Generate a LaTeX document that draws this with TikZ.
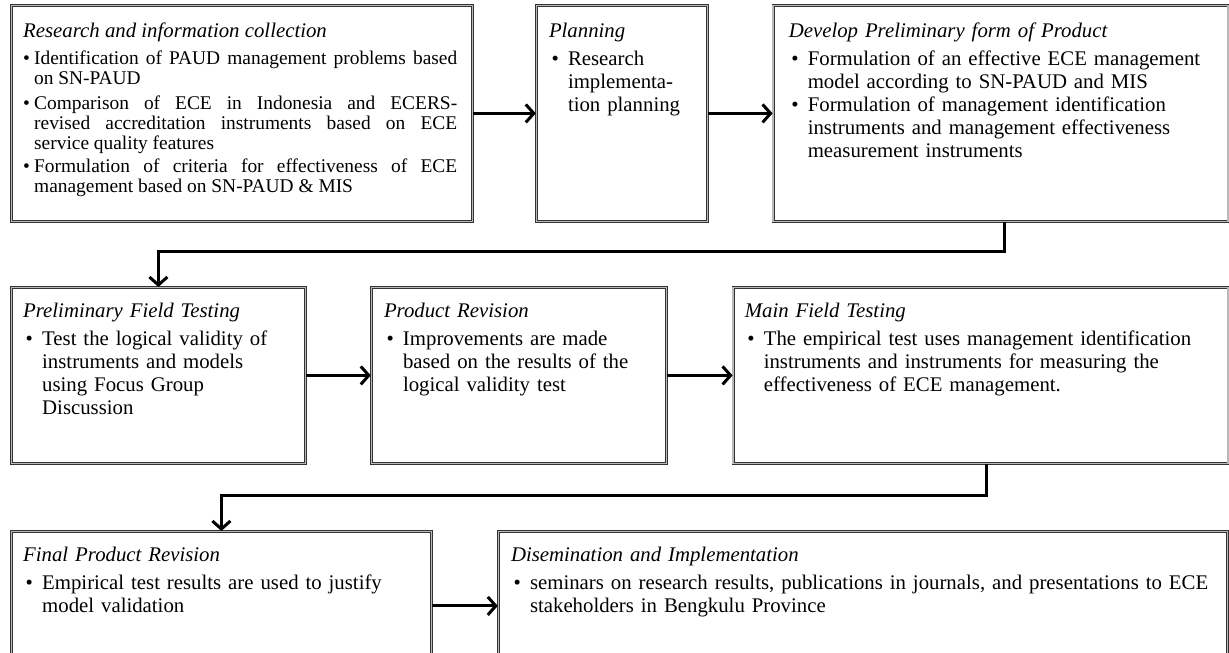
\documentclass[tikz,border=0pt]{standalone}
\usepackage{fontspec}
\setmainfont{Liberation Serif}
\usetikzlibrary{arrows.meta, positioning}
\hyphenpenalty=10000
\tikzset{
    stage/.style={draw=black!80, double=gray!55, double distance=1.4pt, line width=0.8pt, inner sep=0pt, anchor=north west}, % double framed box
    stagetext/.style={anchor=north west, inner sep=0pt, align=left, font=\fontsize{20.8}{23}\selectfont},
    flowline/.style={line width=3pt, -{Straight Barb[length=8pt,width=18pt]}},
}
\newcommand{\stagehead}[1]{{\fontsize{20.8}{23}\selectfont\itshape #1}\par\vspace{5pt}}
\newcommand{\stageitem}[1][19pt]{\par\hangindent=#1\hangafter=1\noindent\makebox[#1][l]{\ifdim#1<15pt\else\hspace{2.5pt}\fi\textbullet}}

\begin{document}
\begin{tikzpicture}[x=1pt, y=-1pt]
    \clip (0,0) rectangle (1229,653);
    \fill[white] (0,0) rectangle (1229,653);

    % first row
    \node[stage, minimum width=461pt, minimum height=216pt] (research) at (11,5) {};
    \node[stage, minimum width=171pt, minimum height=216pt, right=63pt of research.north east, anchor=north west] (planning) {};
    \node[stage, minimum width=455pt, minimum height=216pt, right=65pt of planning.north east, anchor=north west] (develop) {};

    % second row
    \node[stage, minimum width=294pt, minimum height=176pt] (prelim) at (11,287) {};
    \node[stage, minimum width=295pt, minimum height=176pt, right=65pt of prelim.north east, anchor=north west] (revision) {};
    \node[stage, minimum width=495pt, minimum height=176pt, right=66pt of revision.north east, anchor=north west] (mainfield) {};

    % third row
    \node[stage, minimum width=420pt, minimum height=149pt] (finalrev) at (11,531) {};
    \node[stage, minimum width=729pt, minimum height=149pt, right=66pt of finalrev.north east, anchor=north west] (dissem) {};

    % texts
    \node[stagetext, text width=434pt, align=justify, font=\fontsize{19.4}{20}\selectfont] (researchtxt) at ([shift={(12,18)}]research.north west) {%
        \stagehead{Research and information collection}\vspace{2pt}%
        \stageitem[11pt]Identification of PAUD management problems based\linebreak on SN-PAUD\par\vspace{5pt}%
        \stageitem[11pt]Comparison of ECE in Indonesia and ECERS-\linebreak revised accreditation instruments based on ECE\linebreak service quality features\par\vspace{3pt}%
        \stageitem[11pt]Formulation of criteria for effectiveness of ECE\linebreak management based on SN-PAUD \& MIS\par};
    \node[stagetext, text width=150pt] (planningtxt) at ([shift={(13,18)}]planning.north west) {%
        \stagehead{Planning}%
        \stageitem Research\newline implementa-\newline tion planning\par};
    \node[stagetext, text width=427pt] (developtxt) at ([shift={(16,18)}]develop.north west) {%
        \stagehead{Develop Preliminary form of Product}%
        \stageitem Formulation of an effective ECE management\newline model according to SN-PAUD and MIS%
        \stageitem Formulation of management identification\newline instruments and management effectiveness\newline measurement instruments\par};

    \node[stagetext, text width=277pt] (prelimtxt) at ([shift={(12,16)}]prelim.north west) {%
        \stagehead{Preliminary Field Testing}%
        \stageitem Test the logical validity of\newline instruments and models\newline using Focus Group\newline Discussion\par};
    \node[stagetext, text width=277pt] (revisiontxt) at ([shift={(13,16)}]revision.north west) {%
        \stagehead{Product Revision}%
        \stageitem Improvements are made\newline based on the results of the\newline logical validity test\par};
    \node[stagetext, text width=472pt] (mainfieldtxt) at ([shift={(12,16)}]mainfield.north west) {%
        \stagehead{Main Field Testing}%
        \stageitem The empirical test uses management identification\newline instruments and instruments for measuring the\newline effectiveness of ECE management.\par};

    \node[stagetext, text width=402pt] (finalrevtxt) at ([shift={(12,16)}]finalrev.north west) {%
        \stagehead{Final Product Revision}%
        \stageitem Empirical test results are used to justify\newline model validation\par};
    \node[stagetext, text width=711pt] (dissemtxt) at ([shift={(13,16)}]dissem.north west) {%
        \stagehead{Disemination and Implementation}%
        \stageitem seminars on research results, publications in journals, and presentations to ECE\newline stakeholders in Bengkulu Province\par};

    % connectors
    \draw[flowline] (research) -- (planning);
    \draw[flowline] (planning) -- (develop);
    \draw[flowline] ([xshift=4pt]develop.south) -- ++(0,30) -| (prelim.north);
    \draw[flowline] (prelim) -- (revision);
    \draw[flowline] (revision) -- (mainfield);
    \draw[flowline] ([xshift=6pt]mainfield.south) -- ++(0,32) -| (finalrev.north);
    \draw[flowline] (finalrev) -- (dissem);
\end{tikzpicture}
\end{document}
